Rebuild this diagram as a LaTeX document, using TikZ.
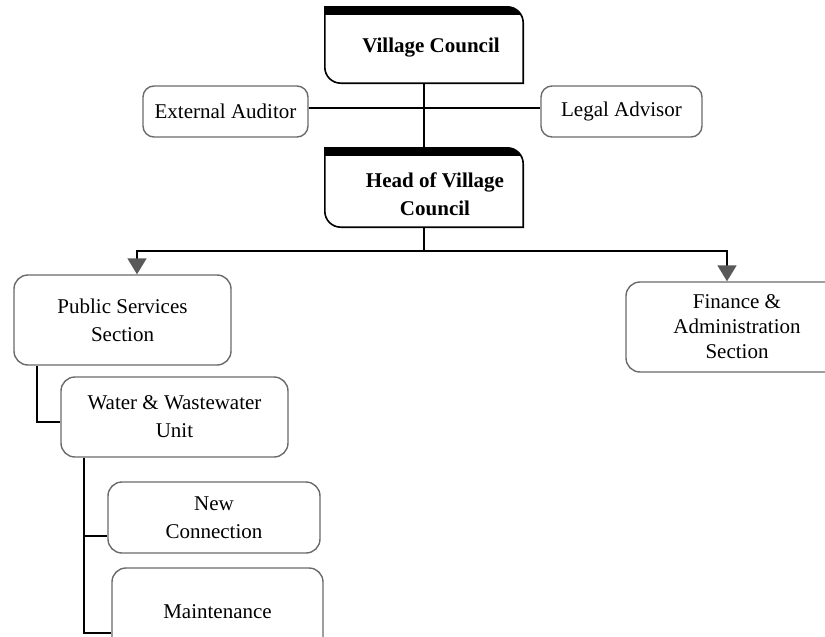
\documentclass[tikz,border=0pt]{standalone}
\usepackage{fontspec}
\setmainfont{Liberation Serif}
\usetikzlibrary{arrows.meta}

\definecolor{boxgray}{HTML}{6A6A6A}
\definecolor{tipgray}{HTML}{595959}

\tikzset{
  unitbox/.style={draw=boxgray, line width=1.4pt, rounded corners=14pt,
    align=center, inner sep=0pt, font=\fontsize{21}{28}\selectfont},
  smallbox/.style={unitbox, rounded corners=11pt},
  frame/.style={minimum width=198pt, inner sep=0pt},
  boldlabel/.style={font=\fontsize{21}{28}\selectfont\bfseries, align=center, inner sep=0pt},
  link/.style={draw=black, line width=1.8pt},
  branch/.style={link, -{Triangle[width=19pt,length=16pt,color=tipgray]}},
}

% Council frame: square top-left and bottom-right corners, rounded
% top-right and bottom-left corners, with a black band along the top.
\newcommand\councilpath[1]{(#1.north west) -- ([xshift=-16pt]#1.north east)
  arc[start angle=90,end angle=0,radius=16pt] -- (#1.south east)
  -- ([xshift=16pt]#1.south west) arc[start angle=270,end angle=180,radius=16pt] -- cycle}
\newcommand\councilframe[1]{%
  \begin{scope}
    \clip \councilpath{#1};
    \fill (#1.north west) rectangle ([yshift=-8pt]#1.north east);
  \end{scope}
  \draw[line width=1.6pt] \councilpath{#1};
}

\begin{document}
\begin{tikzpicture}[x=1pt, y=-1pt]
  \clip (0,0) rectangle (825,637);

  % council level
  \node[frame, minimum height=76pt] (vc) at (424,45) {};
  \councilframe{vc}
  \node[boldlabel] (vct) at ([xshift=7pt,yshift=-3pt]vc.center) {Village Council};

  \node[smallbox, minimum width=165pt, minimum height=51pt] (ea) at (225.5,111.5) {External Auditor};
  \node[smallbox, minimum width=161pt, minimum height=51pt] (la) at (621.5,111.5) {Legal Advisor};

  \node[frame, minimum height=79pt] (hvc) at (424,187.5) {};
  \councilframe{hvc}
  \node[boldlabel] (hvct) at ([xshift=11pt,yshift=-6.5pt]hvc.center) {Head of Village\\Council};

  % sections and units
  \node[unitbox, minimum width=217pt, minimum height=90pt] (pss) at (122.5,320) {Public Services\\Section};
  \node[unitbox, minimum width=222pt, minimum height=90pt, font=\fontsize{21}{25}\selectfont]
    (fas) at (737,327) {Finance \&\\Administration\\Section};
  \node[unitbox, minimum width=227pt, minimum height=80pt] (wwu) at (174.5,417) {Water \& Wastewater\\Unit};
  \node[unitbox, minimum width=212pt, minimum height=71pt] (nc) at (214,517.5) {New\\Connection};
  \node[unitbox, minimum width=211pt, minimum height=88pt] (mt) at (217.5,612) {Maintenance};

  % connectors
  \draw[link] (vc.south) -- (hvc.north);
  \draw[link] ([yshift=3.5pt]ea.east) -- ([yshift=3.5pt]la.west);
  \draw[link] (hvc.south) -- ++(0,23.5) coordinate (bus);
  \draw[branch] (bus) -| ([xshift=14.5pt]pss.north);
  \draw[branch] (bus) -| ([xshift=-10pt]fas.north);
  \draw[link] ([xshift=24pt]pss.south west) |- ([yshift=-5pt]wwu.west);
  \draw[link] ([xshift=24pt]wwu.south west) |- ([yshift=-18.5pt]nc.west);
  \draw[link] ([xshift=24pt]wwu.south west) |- ([yshift=-21pt]mt.west);
\end{tikzpicture}
\end{document}
